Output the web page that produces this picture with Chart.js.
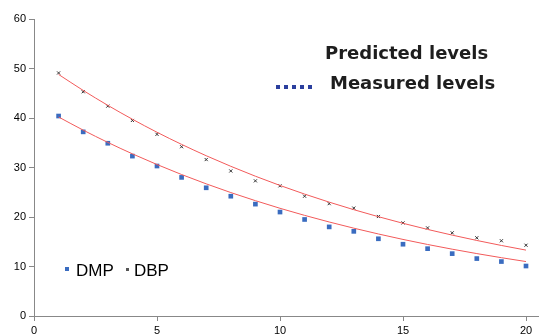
<!DOCTYPE html>
<html>
<head>
<meta charset="utf-8">
<script src="https://cdn.jsdelivr.net/npm/chart.js@4/dist/chart.umd.min.js"></script>
<style>
  body { margin: 0; background: #fff; overflow: hidden; }
  canvas { display: block; }
</style>
</head>
<body>
<canvas id="chart" width="539" height="335"></canvas>
<script>
// time points
const xs = [1,2,3,4,5,6,7,8,9,10,11,12,13,14,15,16,17,18,19,20];
// measured levels
const dmp = [40.4,37.2,34.9,32.3,30.3,28.0,25.9,24.2,22.6,21.0,19.5,18.0,17.1,15.6,14.5,13.6,12.6,11.6,11.0,10.1];
const dbp = [49.1,45.3,42.4,39.5,36.7,34.2,31.6,29.3,27.3,26.3,24.2,22.7,21.8,20.1,18.8,17.8,16.8,15.8,15.2,14.3];
// predicted levels (red curves)
const dmpPred = [40.2,37.55,35.07,32.76,30.6,28.58,26.7,24.94,23.3,21.76,20.33,18.99,17.74,16.57,15.47,14.45,13.5,12.61,11.78,11.0];
const dbpPred = [48.8,45.57,42.56,39.75,37.12,34.67,32.38,30.24,28.24,26.37,24.63,23.0,21.48,20.06,18.73,17.49,16.34,15.26,14.25,13.31];

const pts = (ys) => xs.map((x, i) => ({x: x, y: ys[i]}));

const labels = {
  id: "labels",
  afterDraw(chart) {
    const c = chart.ctx;
    const a = chart.chartArea;
    c.save();
    // x axis line runs on to the edge
    c.strokeStyle = "#888";
    c.lineWidth = 1;
    c.beginPath();
    c.moveTo(a.right, a.bottom + 0.5);
    c.lineTo(539, a.bottom + 0.5);
    c.stroke();

    c.fillStyle = "#1e1e1e";
    c.font = "bold 18px 'DejaVu Sans'";
    c.textBaseline = "middle";
    c.fillText("Predicted levels", 325, 54);
    c.fillText("Measured levels", 330, 84);
    c.fillStyle = "#2b3f9e";
    for (let i = 0; i < 5; i++) c.fillRect(276 + i * 8, 85, 4, 4);
    // bottom-left legend
    c.font = "17px 'Liberation Sans'";
    c.fillStyle = "#000";
    c.fillText("DMP", 76, 271);
    c.fillText("DBP", 134, 271);
    c.fillStyle = "#3a6cc0";
    c.fillRect(65, 267, 4, 4);
    c.fillStyle = "#555";
    c.fillRect(126, 268, 3, 3);
    c.restore();
  }
};

new Chart(document.getElementById("chart"), {
  type: "scatter",
  data: {
    datasets: [
      { label: "DBP pred", data: pts(dbpPred), showLine: true, borderColor: "#f25a5a", borderWidth: 1, pointRadius: 0, cubicInterpolationMode: "monotone", clip: false },
      { label: "DMP pred", data: pts(dmpPred), showLine: true, borderColor: "#f25a5a", borderWidth: 1, pointRadius: 0, cubicInterpolationMode: "monotone", clip: false },
      { label: "DMP", data: pts(dmp), pointStyle: "rect", pointRadius: 3.3, backgroundColor: "#3a6cc0", borderColor: "#3a6cc0", borderWidth: 0, clip: false },
      { label: "DBP", data: pts(dbp), pointStyle: "crossRot", pointRadius: 2.2, borderColor: "#333", borderWidth: 1, clip: false }
    ]
  },
  options: {
    responsive: false,
    animation: false,
    layout: { padding: { top: 19, right: 13, left: 0, bottom: 0 } },
    plugins: { legend: { display: false }, tooltip: { enabled: false } },
    scales: {
      x: {
        type: "linear", min: 0, max: 20,
        afterFit: (s) => { s.height = 19; },
        grid: { display: true, drawOnChartArea: false, drawTicks: true, tickLength: 5, tickColor: "#888" },
        border: { color: "#888", width: 1 },
        ticks: { stepSize: 5, color: "#000", font: { family: "Liberation Sans", size: 11 }, padding: 3, maxRotation: 0 }
      },
      y: {
        min: 0, max: 60,
        afterFit: (s) => { s.width = 34; },
        grid: { display: true, drawOnChartArea: false, drawTicks: true, tickLength: 5, tickColor: "#888" },
        border: { color: "#888", width: 1 },
        ticks: { stepSize: 10, color: "#000", font: { family: "Liberation Sans", size: 11 }, padding: 3 }
      }
    }
  },
  plugins: [labels]
});
</script>
</body>
</html>
